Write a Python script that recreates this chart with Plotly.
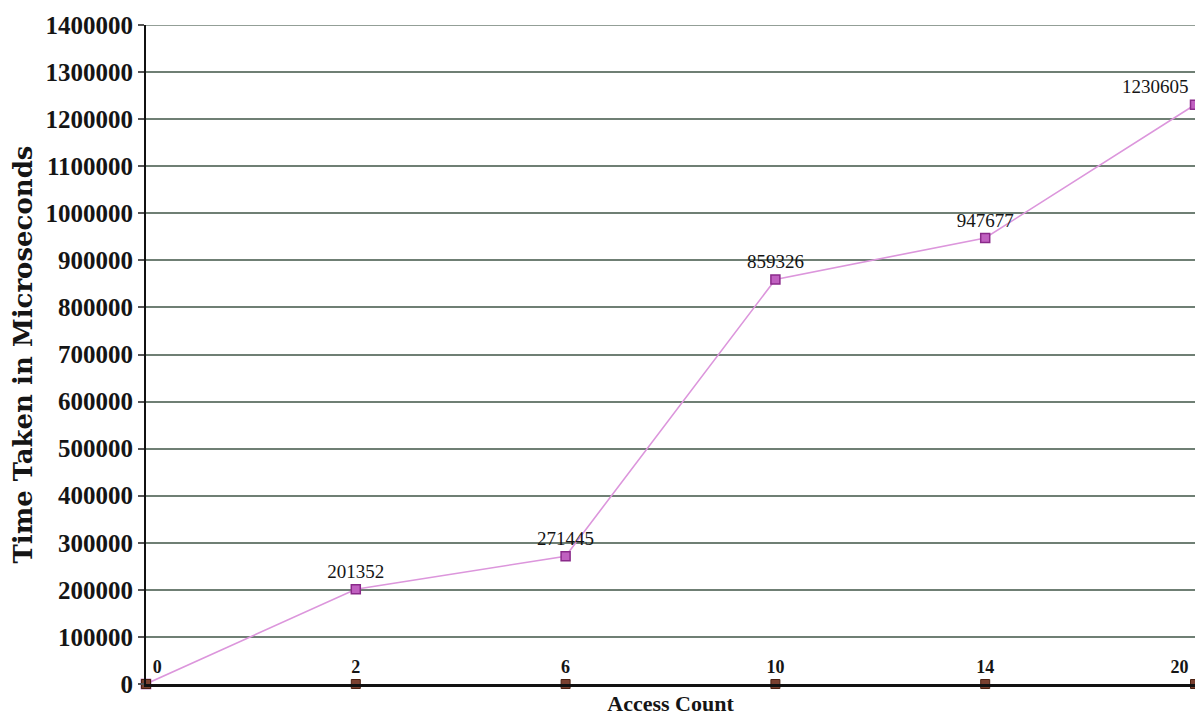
import plotly.graph_objects as go

categories = ["0", "2", "6", "10", "14", "20"]
time_taken = [0, 201352, 271445, 859326, 947677, 1230605]
value_labels = ["", "201352", "271445", "859326", "947677", "1230605"]
baseline = [0, 0, 0, 0, 0, 0]
y_ticks = list(range(0, 1400001, 100000))

idx = list(range(len(categories)))
serif = "Liberation Serif, Times New Roman, serif"
wide_serif = "DejaVu Serif, serif"
grid_color = "#6f7f74"

fig = go.Figure()

fig.add_trace(go.Scatter(
    x=idx, y=time_taken, mode="lines+markers+text",
    line=dict(color="#dc96dc", width=1.6),
    marker=dict(symbol="square", size=9, color="#c060c0", line=dict(color="#8a2a8a", width=1.5)),
    text=value_labels,
    textposition=["top center"] * 5 + ["top left"],
    textfont=dict(family=serif, size=19, color="#151515"),
    cliponaxis=False, showlegend=False,
))

fig.add_trace(go.Scatter(
    x=idx, y=baseline, mode="markers+text",
    marker=dict(symbol="square", size=9, color="#7a4030", line=dict(color="#4a2010", width=1)),
    text=[f"<b>{c}</b>" for c in categories],
    textposition=["top right"] + ["top center"] * 4 + ["top left"],
    textfont=dict(family=serif, size=18, color="#151515"),
    cliponaxis=False, showlegend=False,
))

fig.update_layout(
    width=1187, height=708,
    margin=dict(l=138, r=0, t=17, b=32),
    paper_bgcolor="white", plot_bgcolor="white",
    font=dict(family=serif, color="#151515"),
    xaxis=dict(
        range=[0, 5], showticklabels=False, showgrid=False, zeroline=False,
        showline=True, linecolor="#111111", linewidth=2.5, automargin=False,
        title=dict(text="<b>Access Count</b>", font=dict(size=22, family=serif), standoff=20),
    ),
    yaxis=dict(
        range=[0, 1400000], tickvals=y_ticks, ticktext=[f"<b>{v}</b>" for v in y_ticks],
        tickfont=dict(size=25, family=serif, color="#151515"),
        ticklabeloverflow="allow", automargin=False,
        ticks="outside", ticklen=6, tickcolor="#555555", tickwidth=1.5,
        showgrid=True, gridcolor=grid_color, gridwidth=1.5,
        zeroline=False, showline=True, linecolor="#111111", linewidth=2,
        title=dict(text="<b>Time Taken in Microseconds</b>", font=dict(size=26, family=wide_serif), standoff=6),
    ),
    shapes=[dict(type="line", xref="paper", yref="y", x0=0, x1=1, y0=1400000, y1=1400000,
                 line=dict(color=grid_color, width=1.5), layer="below")],
)

fig.write_html("out.html")
